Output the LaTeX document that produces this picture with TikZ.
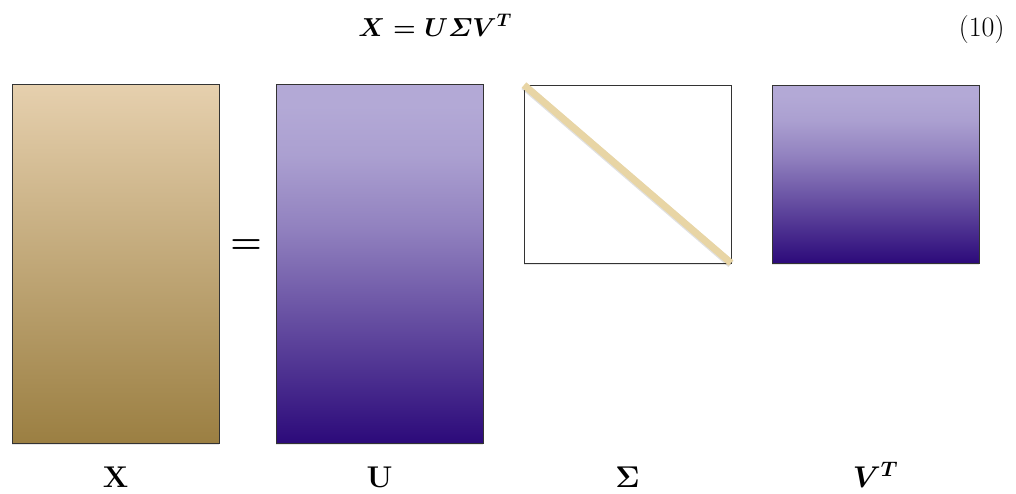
\RequirePackage{fix-cm}
\documentclass[tikz,border=0pt]{standalone}
\usepackage{amsmath}
\usetikzlibrary{shadows}
\definecolor{tanlight}{HTML}{E6D0AE}
\definecolor{tanmid}{HTML}{C6AB82}
\definecolor{tandark}{HTML}{9B7F42}
\definecolor{purplelight}{HTML}{B3A9D6}
\definecolor{purpledark}{HTML}{2C0A7A}
\definecolor{diagtan}{HTML}{E8D5A5}
\pgfdeclareverticalshading{purpleshade}{100bp}{color(0bp)=(purpledark); color(25bp)=(purpledark);
    color(35bp)=(purpledark!75!purplelight); color(45bp)=(purpledark!50!purplelight);
    color(55bp)=(purpledark!25!purplelight); color(65bp)=(purpledark!6!purplelight);
    color(72bp)=(purplelight); color(100bp)=(purplelight)}
\tikzset{
    matbox/.style={draw=black!80, line width=0.8pt, inner sep=0pt, outer sep=0pt,
        drop shadow={shadow xshift=0pt, shadow yshift=-2pt, opacity=0.2}},
    tanbox/.style={matbox, top color=tanlight, middle color=tanmid, bottom color=tandark},
    purplebox/.style={matbox, shading=purpleshade},
    matlabel/.style={anchor=base, font=\fontsize{30}{34}\selectfont}
}
\begin{document}
\begin{tikzpicture}[x=1pt, y=-1pt]
    \useasboundingbox (0,0) rectangle (1016,493);
    % equation
    \node[matlabel, font=\fontsize{26}{30}\selectfont] (eqn) at (435,36) {$\boldsymbol{X = U\varSigma V^{T}}$};
    \node[matlabel, font=\fontsize{28}{32}\selectfont, anchor=base east] (eqnum) at (1008,36) {(10)};
    % matrices
    \node[tanbox, minimum width=207pt, minimum height=359pt] (X) at (115.5,263.5) {};
    \node[purplebox, minimum width=207pt, minimum height=359pt] (U) at (379.5,263.5) {};
    \node[matbox, fill=white, minimum width=207pt, minimum height=178pt] (S) at (627.5,174) {};
    \node[purplebox, minimum width=207pt, minimum height=178pt] (VT) at (875.5,174) {};
    \draw[diagtan, line width=7pt,
        preaction={draw=black, opacity=0.12, line width=8pt, transform canvas={yshift=-1pt}}]
        (S.north west) -- (S.south east);
    % equals sign
    \node[font=\fontsize{36}{40}\selectfont\boldmath] (eq) at (246,247) {$=$};
    % labels
    \node[matlabel] (Xlab) at (X.center |- 0,487) {$\mathbf{X}$};
    \node[matlabel] (Ulab) at (U.center |- 0,487) {$\mathbf{U}$};
    \node[matlabel] (Slab) at (S.center |- 0,487) {$\boldsymbol{\Sigma}$};
    \node[matlabel] (VTlab) at (VT.center |- 0,487) {$\boldsymbol{V^{T}}$};
\end{tikzpicture}
\end{document}
